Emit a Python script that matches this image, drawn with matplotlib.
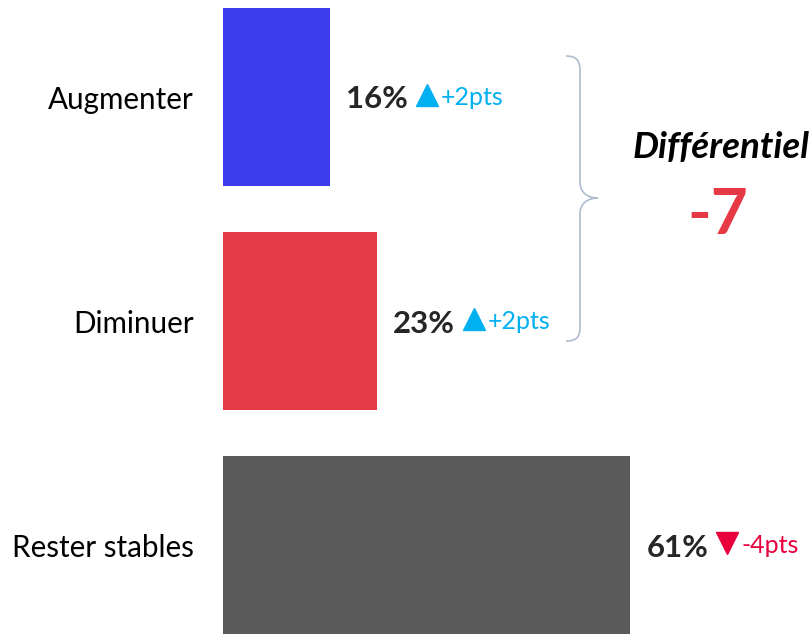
import matplotlib
matplotlib.use("Agg")
import matplotlib.pyplot as plt
from matplotlib.path import Path
from matplotlib.patches import PathPatch
from matplotlib.transforms import Affine2D

categories = ["Augmenter", "Diminuer", "Rester stables"]
values = [16, 23, 61]
changes = ["+2pts", "+2pts", "-4pts"]
bar_colors = ["#3D3DF0", "#E53945", "#5A5A5A"]
differential = "-7"

up_color = "#00B0F0"
down_color = "#E8003D"

plt.rcParams["font.family"] = ["Lato", "DejaVu Sans"]

W, H = 812, 634
fig = plt.figure(figsize=(W / 100, H / 100), dpi=100)

# axes placed in pixel terms: bars start at x=223, 6.68 px per percent
px_per_pct = 6.68
ax = fig.add_axes([223 / W, 0, (W - 223) / W, 1])
ax.set_xlim(0, (W - 223) / px_per_pct)
ax.set_ylim(2.395, -0.433)
ax.axis("off")

y = range(len(categories))
ax.barh(y, values, height=0.795, color=bar_colors)

for i, (cat, v, ch) in enumerate(zip(categories, values, changes)):
    ax.text(-29 / px_per_pct, i + 0.012, cat, ha="right", va="center",
            fontsize=21.3, color="black", clip_on=False)
    ax.text(v + 16 / px_per_pct, i + 0.01, f"{v}%", ha="left", va="center",
            fontsize=22.5, fontweight="bold", color="#262626", clip_on=False)
    up = ch.startswith("+")
    col = up_color if up else down_color
    ax.plot(v + 97 / px_per_pct, i - 0.01, marker="^" if up else "v",
            markersize=15.5, color=col, clip_on=False)
    ax.text(v + 111 / px_per_pct, i, ch, ha="left", va="center",
            fontsize=18, color=col, clip_on=False)

# brace, drawn in figure pixel coordinates (y downwards)
pix = Affine2D().scale(1 / W, -1 / H).translate(0, 1) + fig.transFigure
verts = [
    (566, 56), (578, 56), (580, 62), (580, 72),
    (580, 182),
    (580, 193), (588, 198), (598, 198),
    (588, 198), (580, 203), (580, 214),
    (580, 326),
    (580, 336), (578, 341), (566, 341),
]
codes = [Path.MOVETO, Path.CURVE4, Path.CURVE4, Path.CURVE4,
         Path.LINETO,
         Path.CURVE4, Path.CURVE4, Path.CURVE4,
         Path.CURVE4, Path.CURVE4, Path.CURVE4,
         Path.LINETO,
         Path.CURVE4, Path.CURVE4, Path.CURVE4]
fig.patches.append(PathPatch(Path(verts, codes), transform=pix,
                             facecolor="none", edgecolor="#AEBBD0", lw=1.2))

fig.text(721 / W, 1 - 147 / H, "Différentiel", ha="center", va="center",
         fontsize=26.5, fontweight="bold", fontstyle="italic", color="black")
fig.text(718 / W, 1 - 215 / H, differential, ha="center", va="center",
         fontsize=46, fontweight="bold", color="#E53945")

fig.savefig("out.png", dpi=100)
